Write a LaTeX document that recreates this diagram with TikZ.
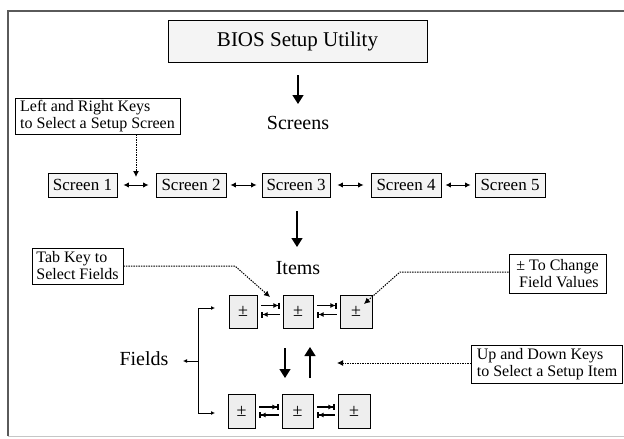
\documentclass[tikz,border=0pt]{standalone}
\usepackage{fontspec}
\setmainfont{Liberation Serif}
\usetikzlibrary{arrows.meta,calc}
\definecolor{boxfill}{HTML}{F4F4F4}
\definecolor{pmfill}{HTML}{EEEEEE}
\definecolor{framec}{HTML}{5A5A5A}
\begin{document}
\begin{tikzpicture}[x=1pt,y=-1pt,
  bx/.style={draw,line width=0.9pt,fill=boxfill,inner sep=0pt,anchor=center},
  titlebox/.style={bx,minimum width=259pt,minimum height=42pt,font=\fontsize{21}{24}\selectfont},
  scrbox/.style={bx,minimum height=24pt,font=\fontsize{17}{19}\selectfont},
  callout/.style={draw,line width=0.9pt,fill=white,inner sep=0pt,font=\fontsize{16}{17}\selectfont},
  pmbox/.style={bx,fill=pmfill,font=\fontsize{18}{18}\selectfont},
  biglabel/.style={inner sep=0pt,font=\fontsize{20}{22}\selectfont},
  bigarr/.style={line width=1.4pt,-{Triangle[width=11pt,length=9pt]}},
  dblarr/.style={line width=1pt,{Latex[length=5.5pt,width=5.5pt]}-{Latex[length=5.5pt,width=5.5pt]}},
  dotarr/.style={line width=1pt,dash pattern=on 1.4pt off 1.1pt,-{Latex[length=6pt,width=6pt]}},
  tabr/.style={line width=1.1pt,-{Latex[length=5pt,width=5pt]Bar[width=6pt,line width=1.1pt]}},
  smallarr/.style={line width=0.9pt,-{Latex[length=4pt,width=4pt]}}
]
\useasboundingbox (0,0) rectangle (624,439);
\fill[white] (0,0) rectangle (624,439);
% frame
\draw[framec,line width=2.6pt] (8,436) -- (8,11) -- (624,11);
\draw[gray!45,line width=0.8pt] (8,436) -- (624,436);

% title and screens
\node[titlebox] (title) at (297.5,41) {BIOS Setup Utility};
\node[biglabel] (screens) at (298,123) {Screens};
\coordinate (t1) at (298,75);
\coordinate (t2) at (298,104);
\draw[bigarr] (t1) -- (t2);

\node[callout,align=left,minimum width=165pt,minimum height=36pt] (lr) at (97.5,116)
  {Left and Right Keys\\to Select a Setup Screen};

\node[scrbox,minimum width=69pt] (s1) at (82.5,185) {Screen 1};
\node[scrbox,minimum width=70pt] (s2) at (191,185) {Screen 2};
\node[scrbox,minimum width=68pt] (s3) at (296,185) {Screen 3};
\node[scrbox,minimum width=70pt] (s4) at (406,185) {Screen 4};
\node[scrbox,minimum width=70pt] (s5) at (510,185) {Screen 5};
\draw[dblarr,shorten <=6pt,shorten >=7pt] (s1.east) -- (s2.west);
\draw[dblarr,shorten <=4pt,shorten >=5pt] (s2.east) -- (s3.west);
\draw[dblarr,shorten <=7pt,shorten >=7pt] (s3.east) -- (s4.west);
\draw[dblarr,shorten <=4pt,shorten >=4pt] (s4.east) -- (s5.west);
\coordinate (lrtip) at (136,177);
\draw[dotarr] (lr.south -| lrtip) -- (lrtip);

% items
\node[biglabel] (items) at (298,268) {Items};
\coordinate (i1) at (297,211);
\coordinate (i2) at (297,247);
\draw[bigarr] (i1) -- (i2);

\node[pmbox,minimum width=28pt,minimum height=33pt] (a1) at (243,311.5) {±};
\node[pmbox,minimum width=30pt,minimum height=33pt] (a2) at (298,311.5) {±};
\node[pmbox,minimum width=32pt,minimum height=33pt] (a3) at (356,311.5) {±};
\node[pmbox,minimum width=27pt,minimum height=34pt] (b1) at (241.5,411) {±};
\node[pmbox,minimum width=31pt,minimum height=34pt] (b2) at (297.5,411) {±};
\node[pmbox,minimum width=32pt,minimum height=34pt] (b3) at (354,411) {±};

\foreach \p/\q in {a1/a2,a2/a3}{
  \draw[tabr,shorten <=4pt,shorten >=3pt] ([yshift=6pt]\p.east) -- ([yshift=6pt]\q.west);
  \draw[tabr,shorten <=3pt,shorten >=4pt] ([yshift=-3pt]\q.west) -- ([yshift=-3pt]\p.east);
}
\foreach \p/\q in {b1/b2,b2/b3}{
  \draw[tabr,shorten <=4pt,shorten >=3pt] ([yshift=4pt]\p.east) -- ([yshift=4pt]\q.west);
  \draw[tabr,shorten <=3pt,shorten >=4pt] ([yshift=-4pt]\q.west) -- ([yshift=-4pt]\p.east);
}

% vertical arrows
\coordinate (dtop) at (285,348);
\coordinate (dbot) at (285,378);
\coordinate (utop) at (310,347);
\coordinate (ubot) at (310,378);
\draw[bigarr] (dtop) -- (dbot);
\draw[bigarr] (ubot) -- (utop);

% fields
\node[biglabel] (fields) at (144,359) {Fields};
\coordinate (fork) at (198,361);
\coordinate (ftop) at (198,308);
\coordinate (fbot) at (198,413);
\coordinate (fout) at (183,361);
\draw[line width=0.9pt] (ftop) -- (fbot);
\draw[smallarr] (ftop) -- (ftop -| 215,0);
\draw[smallarr] (fbot) -- (fbot -| 215,0);
\draw[smallarr] (fork) -- (fout);

% callouts
\node[callout,align=left,minimum width=91pt,minimum height=36pt] (tab) at (77.5,266)
  {Tab Key to\\Select Fields};
\coordinate (tabbend) at (235,266);
\coordinate (tabtip) at (270,297);
\draw[dotarr] (tab.east) -- (tabbend) -- (tabtip);

\node[callout,align=right,minimum width=97pt,minimum height=39pt] (chg) at (557.5,273.5)
  {± To Change\\Field Values};
\coordinate (chgbend) at (400,272);
\coordinate (chgtip) at (364,304);
\draw[dotarr] (chg.west |- chgbend) -- (chgbend) -- (chgtip);

\node[callout,align=left,minimum width=151pt,minimum height=38pt] (ud) at (547,364)
  {Up and Down Keys\\to Select a Setup Item};
\coordinate (udtip) at (337,363);
\draw[dotarr] (ud.west |- udtip) -- (udtip);
\end{tikzpicture}
\end{document}
